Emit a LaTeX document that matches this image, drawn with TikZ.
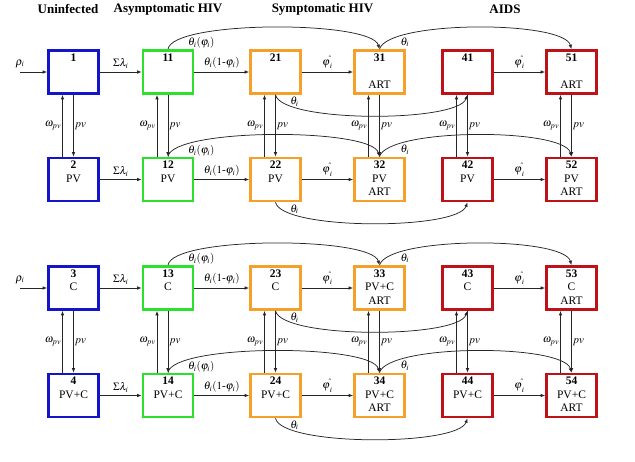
\documentclass[tikz,border=0pt]{standalone}
\usepackage{mathptmx}
\usepackage{fontspec}
\setmainfont{Liberation Serif}
\usepackage{tikz}
\usetikzlibrary{arrows.meta}
\definecolor{uninf}{HTML}{1414CC}
\definecolor{asym}{HTML}{2EE02E}
\definecolor{symp}{HTML}{F5A02A}
\definecolor{aids}{HTML}{BF1218}
\definecolor{arr}{HTML}{262626}
\newcommand{\compt}[3]{\textbf{#1}\strut\\#2\strut\\#3\strut}
\tikzset{
  comp/.style={draw=#1, line width=2.6pt, minimum width=50pt, minimum height=43pt, inner sep=0pt, align=center, font=\fontsize{11.5}{13.5}\selectfont},
  flow/.style={draw=arr, line width=0.75pt, -{Latex[length=4.5pt,width=3.5pt]}},
  head/.style={font=\fontsize{13}{15}\selectfont\bfseries},
  lab/.style={text=black, font=\fontsize{11}{13}\selectfont, inner sep=1pt},
}

\begin{document}
\begin{tikzpicture}[x=1pt, y=-1pt]
  \useasboundingbox (0,0) rectangle (635,461);
  % column heads
  \node[head] (hU) at (68,9) {Uninfected};
  \node[head] (hA) at (168,9) {Asymptomatic HIV};
  \node[head] (hS) at (322.5,9) {Symptomatic HIV};
  \node[head] (hD) at (505,9) {AIDS};

  % compartments
  \node[comp=uninf] (n1)  at (73.5,72)   {\compt{1}{}{}};
  \node[comp=asym]  (n11) at (168,72)    {\compt{11}{}{}};
  \node[comp=symp]  (n21) at (275.5,72)  {\compt{21}{}{}};
  \node[comp=symp]  (n31) at (379.5,72)  {\compt{31}{}{ART}};
  \node[comp=aids]  (n41) at (467.5,72)  {\compt{41}{}{}};
  \node[comp=aids]  (n51) at (571.5,72)  {\compt{51}{}{ART}};

  \node[comp=uninf] (n2)  at (73.5,179.5)  {\compt{2}{PV}{}};
  \node[comp=asym]  (n12) at (168,179.5)   {\compt{12}{PV}{}};
  \node[comp=symp]  (n22) at (275.5,179.5) {\compt{22}{PV}{}};
  \node[comp=symp]  (n32) at (379.5,179.5) {\compt{32}{PV}{ART}};
  \node[comp=aids]  (n42) at (467.5,179.5) {\compt{42}{PV}{}};
  \node[comp=aids]  (n52) at (571.5,179.5) {\compt{52}{PV}{ART}};

  \node[comp=uninf] (n3)  at (73.5,288)  {\compt{3}{C}{}};
  \node[comp=asym]  (n13) at (168,288)   {\compt{13}{C}{}};
  \node[comp=symp]  (n23) at (275.5,288) {\compt{23}{C}{}};
  \node[comp=symp]  (n33) at (379.5,288) {\compt{33}{PV+C}{ART}};
  \node[comp=aids]  (n43) at (467.5,288) {\compt{43}{C}{}};
  \node[comp=aids]  (n53) at (571.5,288) {\compt{53}{C}{ART}};

  \node[comp=uninf] (n4)  at (73.5,395.5)  {\compt{4}{PV+C}{}};
  \node[comp=asym]  (n14) at (168,395.5)   {\compt{14}{PV+C}{}};
  \node[comp=symp]  (n24) at (275.5,395.5) {\compt{24}{PV+C}{}};
  \node[comp=symp]  (n34) at (379.5,395.5) {\compt{34}{PV+C}{ART}};
  \node[comp=aids]  (n44) at (467.5,395.5) {\compt{44}{PV+C}{}};
  \node[comp=aids]  (n54) at (571.5,395.5) {\compt{54}{PV+C}{ART}};

  % recruitment
  \coordinate (in1) at (20,72);
  \coordinate (in3) at (20,288);
  \draw[flow] (in1) -- (n1.west) node[lab, pos=0, above=3pt] {$\rho_i$};
  \draw[flow] (in3) -- (n3.west) node[lab, pos=0, above=3pt] {$\rho_i$};

  % horizontal flows
  \foreach \p/\a/\b/\c/\d/\e in {n1/n11/n21/n31/n41/n51, n2/n12/n22/n32/n42/n52, n3/n13/n23/n33/n43/n53, n4/n14/n24/n34/n44/n54}{
    \draw[flow] (\p.east) -- (\a.west) node[lab, midway, above=2pt] {$\Sigma\lambda_i$};
    \draw[flow] (\a.east) -- (\b.west) node[lab, midway, above=2pt] {$\theta_i(1\mbox{-}\varphi_i)$};
    \draw[flow] (\b.east) -- (\c.west) node[lab, midway, above=2pt] {$\varphi^{\hat{}}_{\,i}$};
    \draw[flow] (\d.east) -- (\e.west) node[lab, midway, above=2pt] {$\varphi^{\hat{}}_{\,i}$};
    % arcs over and under
    \draw[flow] (\a.north) .. controls +(4,-29) and +(-8,-29) .. (\c.north);
    \draw[flow] (\c.north) .. controls +(8,-29) and +(-8,-29) .. (\e.north);
    \draw[flow] (\b.south) .. controls +(6,28) and +(-10,28) .. (\d.south);
    \node[lab] at ([shift={(7,-6)}]\a.north east) {$\theta_i(\varphi_i)$};
    \node[lab] at ([shift={(-1,-7)}]\c.north east) {$\theta_i$};
    \node[lab] at ([shift={(19,7)}]\b.south) {$\theta_i$};
  }

  % vertical exchanges
  \foreach \a/\b in {n1/n2, n11/n12, n21/n22, n31/n32, n41/n42, n51/n52, n3/n4, n13/n14, n23/n24, n33/n34, n43/n44, n53/n54}{
    \draw[flow] ([xshift=-11pt]\b.north) -- ([xshift=-11pt]\a.south) node[lab, midway, left] {$\omega_{pv}$};
    \draw[flow] (\a.south) -- (\b.north) node[lab, midway, right] {$pv$};
  }
\end{tikzpicture}
\end{document}
